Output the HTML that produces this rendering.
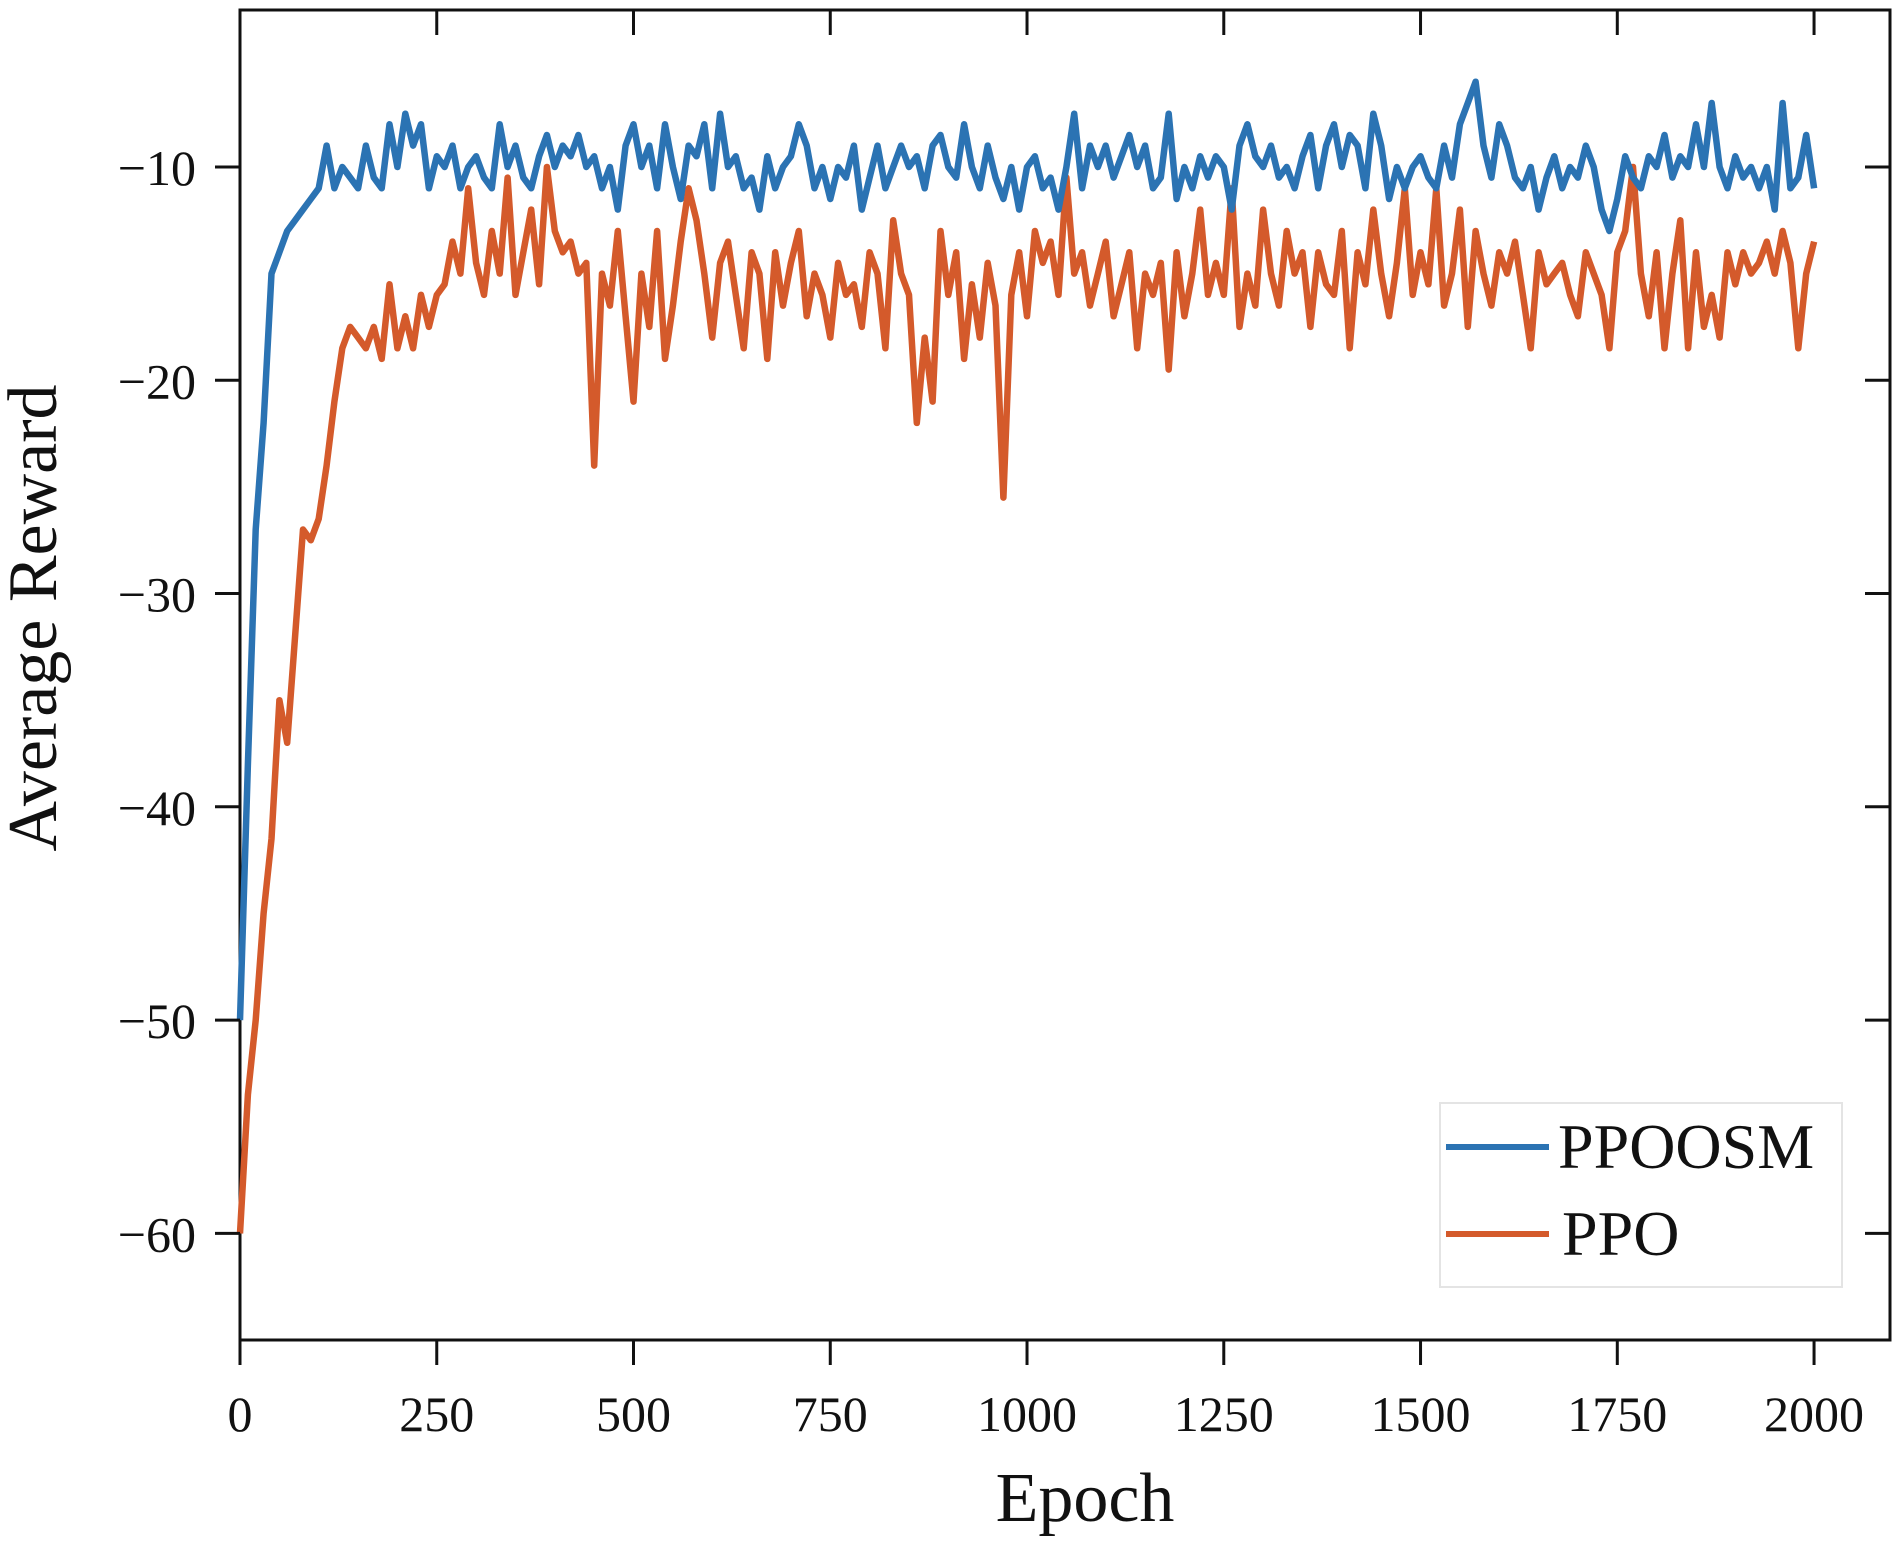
<!DOCTYPE html>
<html><head><meta charset="utf-8"><style>
html,body{margin:0;padding:0;background:#fff;}
svg{display:block;}
text{font-family:"Liberation Serif",serif;fill:#111;}
</style></head><body>
<svg id="chart" width="1900" height="1543" viewBox="0 0 1900 1543">
<g id="frame"></g>
<g id="series"></g>
<g id="ticks"></g>
<text x="1085" y="1521" font-size="70" text-anchor="middle">Epoch</text>
<text transform="translate(56,618) rotate(-90)" font-size="70" text-anchor="middle">Average Reward</text>
<g>
<rect x="1440" y="1103" width="402" height="184" fill="#fff" stroke="#e4e4e4" stroke-width="2"/>
<line x1="1446" y1="1147" x2="1549" y2="1147" stroke="#2b73b3" stroke-width="6"/>
<text x="1558" y="1168" font-size="64">PPOOSM</text>
<line x1="1446" y1="1234" x2="1549" y2="1234" stroke="#d45a2b" stroke-width="6"/>
<text x="1562" y="1255" font-size="64">PPO</text>
</g>
</svg>
<script>
const xTicks=[0,250,500,750,1000,1250,1500,1750,2000];
const yTicks=[-10,-20,-30,-40,-50,-60];
const ppoosm=[-50,-38,-27,-22,-15,-14,-13,-12.5,-12,-11.5,-11,-9,-11,-10,-10.5,-11,-9,-10.5,-11,-8,-10,-7.5,-9,-8,-11,-9.5,-10,-9,-11,-10,-9.5,-10.5,-11,-8,-10,-9,-10.5,-11,-9.5,-8.5,-10,-9,-9.5,-8.5,-10,-9.5,-11,-10,-12,-9,-8,-10,-9,-11,-8,-10,-11.5,-9,-9.5,-8,-11,-7.5,-10,-9.5,-11,-10.5,-12,-9.5,-11,-10,-9.5,-8,-9,-11,-10,-11.5,-10,-10.5,-9,-12,-10.5,-9,-11,-10,-9,-10,-9.5,-11,-9,-8.5,-10,-10.5,-8,-10,-11,-9,-10.5,-11.5,-10,-12,-10,-9.5,-11,-10.5,-12,-10,-7.5,-11,-9,-10,-9,-10.5,-9.5,-8.5,-10,-9,-11,-10.5,-7.5,-11.5,-10,-11,-9.5,-10.5,-9.5,-10,-12,-9,-8,-9.5,-10,-9,-10.5,-10,-11,-9.5,-8.5,-11,-9,-8,-10,-8.5,-9,-11,-7.5,-9,-11.5,-10,-11,-10,-9.5,-10.5,-11,-9,-10.5,-8,-7,-6,-9,-10.5,-8,-9,-10.5,-11,-10,-12,-10.5,-9.5,-11,-10,-10.5,-9,-10,-12,-13,-11.5,-9.5,-10.5,-11,-9.5,-10,-8.5,-10.5,-9.5,-10,-8,-10,-7,-10,-11,-9.5,-10.5,-10,-11,-10,-12,-7,-11,-10.5,-8.5,-11];
const ppo=[-60,-53.5,-50,-45,-41.5,-35,-37,-32,-27,-27.5,-26.5,-24,-21,-18.5,-17.5,-18,-18.5,-17.5,-19,-15.5,-18.5,-17,-18.5,-16,-17.5,-16,-15.5,-13.5,-15,-11,-14.5,-16,-13,-15,-10.5,-16,-14,-12,-15.5,-10,-13,-14,-13.5,-15,-14.5,-24,-15,-16.5,-13,-17,-21,-15,-17.5,-13,-19,-16.5,-13.5,-11,-12.5,-15,-18,-14.5,-13.5,-16,-18.5,-14,-15,-19,-14,-16.5,-14.5,-13,-17,-15,-16,-18,-14.5,-16,-15.5,-17.5,-14,-15,-18.5,-12.5,-15,-16,-22,-18,-21,-13,-16,-14,-19,-15.5,-18,-14.5,-16.5,-25.5,-16,-14,-17,-13,-14.5,-13.5,-16,-10.5,-15,-14,-16.5,-15,-13.5,-17,-15.5,-14,-18.5,-15,-16,-14.5,-19.5,-14,-17,-15,-12,-16,-14.5,-16,-11,-17.5,-15,-16.5,-12,-15,-16.5,-13,-15,-14,-17.5,-14,-15.5,-16,-13,-18.5,-14,-15.5,-12,-15,-17,-14.5,-11,-16,-14,-15.5,-11,-16.5,-15,-12,-17.5,-13,-15,-16.5,-14,-15,-13.5,-16,-18.5,-14,-15.5,-15,-14.5,-16,-17,-14,-15,-16,-18.5,-14,-13,-10,-15,-17,-14,-18.5,-15,-12.5,-18.5,-14,-17.5,-16,-18,-14,-15.5,-14,-15,-14.5,-13.5,-15,-13,-14.5,-18.5,-15,-13.5];
const X0=240,X1=1890,Y0=10,Y1=1340;
const xMin=0,xMax=2096.5,yMin=-65,yMax=-2.64;
function sx(v){return X0+(v-xMin)/(xMax-xMin)*(X1-X0);}
function sy(v){return Y1-(v-yMin)/(yMax-yMin)*(Y1-Y0);}
const NS='http://www.w3.org/2000/svg';
function mk(tag,attrs,parent){const e=document.createElementNS(NS,tag);for(const k in attrs)e.setAttribute(k,attrs[k]);parent.appendChild(e);return e;}
const frame=document.getElementById('frame');
const fr=mk('rect',{x:X0,y:Y0,width:X1-X0,height:Y1-Y0,fill:'none',stroke:'#111','stroke-width':3},frame);


const ticks=document.getElementById('ticks');
xTicks.forEach(t=>{
  const x=sx(t);
  const a=mk('line',{x1:x,y1:Y1,x2:x,y2:Y1+25,stroke:'#111','stroke-width':3},ticks);
  
  
  const b=mk('line',{x1:x,y1:Y0,x2:x,y2:Y0+25,stroke:'#111','stroke-width':3},ticks);
  
  
  const l=mk('text',{x:x,y:1431,'font-size':50,'text-anchor':'middle'},ticks);
  l.textContent=String(t);
  
  
});
yTicks.forEach(t=>{
  const y=sy(t);
  const a=mk('line',{x1:X0-25,y1:y,x2:X0,y2:y,stroke:'#111','stroke-width':3},ticks);
  
  
  const b=mk('line',{x1:X1-25,y1:y,x2:X1,y2:y,stroke:'#111','stroke-width':3},ticks);
  
  
  const l=mk('text',{x:196,y:y+18,'font-size':50,'text-anchor':'end'},ticks);
  l.textContent='\u2212'+String(Math.abs(t));
  
  
});
const sg=document.getElementById('series');
function draw(arr,color,name){
  const step=2000/(arr.length-1);
  const pts=arr.map((v,i)=>sx(i*step).toFixed(1)+','+sy(v).toFixed(1)).join(' ');
  const p=mk('polyline',{points:pts,fill:'none',stroke:color,'stroke-width':6.5,'stroke-linejoin':'round'},sg);
  
  
}
draw(ppo,'#d45a2b','ppo-line');
draw(ppoosm,'#2b73b3','ppoosm-line');
</script>
</body></html>
